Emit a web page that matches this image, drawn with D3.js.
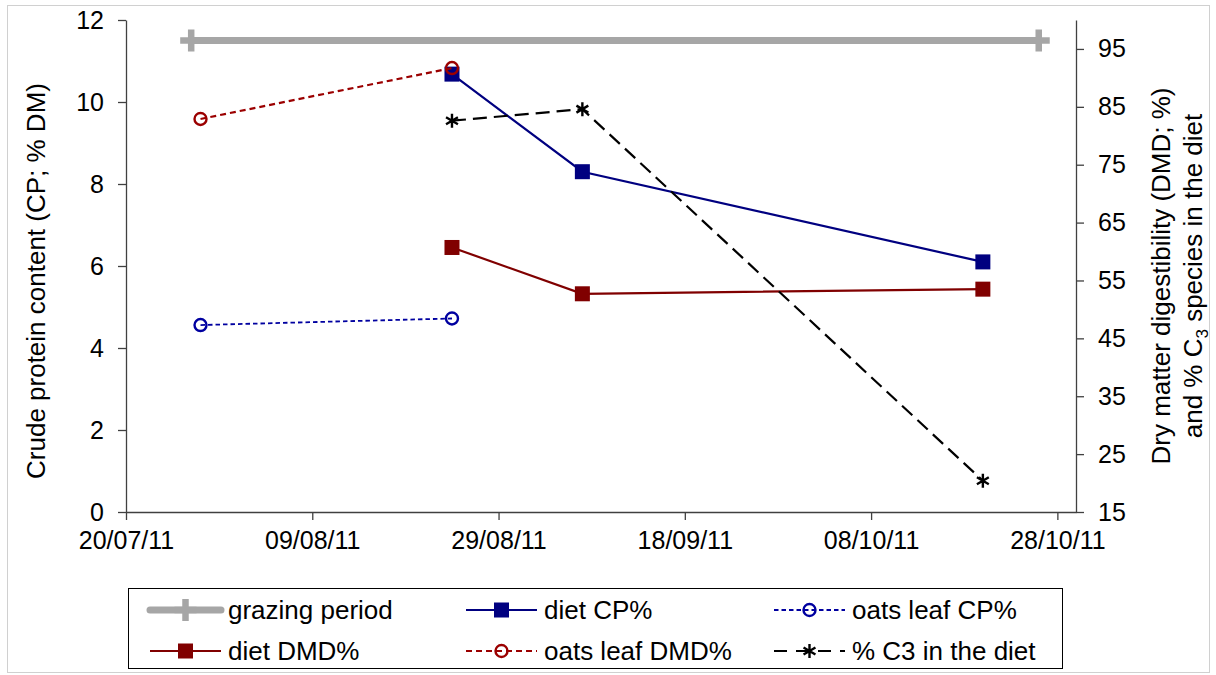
<!DOCTYPE html>
<html>
<head>
<meta charset="utf-8">
<script src="https://cdn.jsdelivr.net/npm/d3@7"></script>
<style>
  body { margin: 0; background: #fff; }
  svg { font-family: "Liberation Sans", Arial, sans-serif; }
</style>
</head>
<body>
<svg id="chart" width="1216" height="675"></svg>
<script>
// data
const xTickLabels = ["20/07/11", "09/08/11", "29/08/11", "18/09/11", "08/10/11", "28/10/11"];
const leftTicks = [0, 2, 4, 6, 8, 10, 12];
const rightTicks = [15, 25, 35, 45, 55, 65, 75, 85, 95];

const grazingDates = ["27/07/11", "26/10/11"];
const grazingCP = [11.5, 11.5];

const dietDates = ["24/08/11", "07/09/11", "20/10/11"];
const dietCP = [10.68, 8.3, 6.1];
const dietDMD = [60.7, 52.7, 53.5];
const c3Diet = [82.6, 84.6, 20.4];

const oatsDates = ["28/07/11", "24/08/11"];
const oatsCP = [4.56, 4.72];
const oatsDMD = [82.9, 91.7];

const parse = d3.timeParse("%d/%m/%y");
const fmt = d3.timeFormat("%d/%m/%y");

const svg = d3.select("#chart");
const plotLeft = 126, plotRight = 1076, plotTop = 20, plotBottom = 512;

const x = d3.scaleTime()
  .domain([parse("20/07/11"), parse("30/10/11")])
  .range([plotLeft, plotRight]);
const yL = d3.scaleLinear().domain([0, 12]).range([plotBottom, plotTop]);
const yR = d3.scaleLinear().domain([15, 100]).range([plotBottom, plotTop]);

// outer border
svg.append("rect")
  .attr("x", 7.5).attr("y", 5.5)
  .attr("width", 1202).attr("height", 667)
  .attr("fill", "none").attr("stroke", "#d0d0d0");

const axisColor = "#404040";
const styleAxis = g => {
  g.select(".domain").attr("stroke", axisColor).attr("stroke-width", 1.3);
  g.selectAll(".tick line").attr("stroke", axisColor).attr("stroke-width", 1.3);
  g.selectAll(".tick text").attr("fill", "#000").style("font-size", "25px");
};

svg.append("g")
  .attr("transform", `translate(0,${plotBottom})`)
  .call(d3.axisBottom(x)
    .tickValues(xTickLabels.map(parse))
    .tickFormat(fmt)
    .tickSize(8).tickSizeOuter(0).tickPadding(11))
  .call(styleAxis);

svg.append("g")
  .attr("transform", `translate(${plotLeft},0)`)
  .call(d3.axisLeft(yL).tickValues(leftTicks).tickSize(8).tickSizeOuter(0).tickPadding(14))
  .call(styleAxis);

svg.append("g")
  .attr("transform", `translate(${plotRight},0)`)
  .call(d3.axisRight(yR).tickValues(rightTicks).tickSize(8).tickSizeOuter(0).tickPadding(14))
  .call(styleAxis);

// axis titles
svg.append("text")
  .attr("transform", `translate(45,281) rotate(-90)`)
  .attr("text-anchor", "middle")
  .style("font-size", "26px")
  .text("Crude protein content (CP; % DM)");

const rt = svg.append("g")
  .attr("transform", `translate(1170,276) rotate(-90)`);
rt.append("text")
  .attr("text-anchor", "middle")
  .style("font-size", "26px")
  .text("Dry matter digestibility (DMD; %)");
const rt2 = rt.append("text")
  .attr("y", 32)
  .attr("text-anchor", "middle")
  .style("font-size", "26px");
rt2.append("tspan").text("and % C");
rt2.append("tspan").attr("dy", 6).style("font-size", "17px").text("3");
rt2.append("tspan").attr("dy", -6).text(" species in the diet");

// markers
const starPath = s => `M0,${-s}V${s}M${-s * 0.85},${-s * 0.5}L${s * 0.85},${s * 0.5}M${-s * 0.85},${s * 0.5}L${s * 0.85},${-s * 0.5}`;

const drawMarker = (g, type, color, cx, cy) => {
  if (type === "square") {
    g.append("rect")
      .attr("x", cx - 7.5).attr("y", cy - 7.5)
      .attr("width", 15).attr("height", 15)
      .attr("fill", color);
  } else if (type === "circle") {
    g.append("circle")
      .attr("cx", cx).attr("cy", cy).attr("r", 6)
      .attr("fill", "none").attr("stroke", color).attr("stroke-width", 2.4);
  } else if (type === "star") {
    g.append("path")
      .attr("transform", `translate(${cx},${cy})`)
      .attr("d", starPath(7))
      .attr("stroke", color).attr("stroke-width", 2.4).attr("fill", "none");
  } else if (type === "cross") {
    g.append("path")
      .attr("transform", `translate(${cx},${cy})`)
      .attr("d", "M-11,0H11M0,-11V11")
      .attr("stroke", color).attr("stroke-width", 6.5).attr("fill", "none");
  }
};

const series = [
  { name: "grazing period", dates: grazingDates, values: grazingCP, y: yL, color: "#a6a6a6", width: 7, dash: null, marker: "cross" },
  { name: "diet CP%", dates: dietDates, values: dietCP, y: yL, color: "#000080", width: 2.2, dash: null, marker: "square" },
  { name: "oats leaf CP%", dates: oatsDates, values: oatsCP, y: yL, color: "#0000a0", width: 1.8, dash: "4.5,3", marker: "circle" },
  { name: "diet DMD%", dates: dietDates, values: dietDMD, y: yR, color: "#800000", width: 2.2, dash: null, marker: "square" },
  { name: "oats leaf DMD%", dates: oatsDates, values: oatsDMD, y: yR, color: "#9b0000", width: 2.2, dash: "6,4", marker: "circle" },
  { name: "% C3 in the diet", dates: dietDates, values: c3Diet, y: yR, color: "#000", width: 2.2, dash: "14,7", marker: "star" }
];

const line = d3.line();
series.forEach(s => {
  const pts = s.dates.map((d, i) => [x(parse(d)), s.y(s.values[i])]);
  const g = svg.append("g");
  g.append("path")
    .attr("d", line(pts))
    .attr("fill", "none")
    .attr("stroke", s.color)
    .attr("stroke-width", s.width)
    .attr("stroke-dasharray", s.dash);
  pts.forEach(p => drawMarker(g, s.marker, s.color, p[0], p[1]));
});

// legend
const lg = svg.append("g");
lg.append("rect")
  .attr("x", 128.5).attr("y", 588.5)
  .attr("width", 934).attr("height", 80)
  .attr("fill", "#fff").attr("stroke", "#000").attr("stroke-width", 1);

const colX = [150, 466, 774];
const rowY = [610, 651];
series.forEach((s, i) => {
  const cx = colX[i % 3], cy = rowY[Math.floor(i / 3)];
  const g = lg.append("g");
  g.append("line")
    .attr("x1", cx).attr("x2", cx + 71)
    .attr("y1", cy).attr("y2", cy)
    .attr("stroke", s.color)
    .attr("stroke-width", s.width)
    .attr("stroke-linecap", s.marker === "cross" ? "round" : "butt")
    .attr("stroke-dasharray", s.marker === "star" ? "13,9" : s.dash);
  drawMarker(g, s.marker, s.color, cx + 35.5, cy);
  g.append("text")
    .attr("x", cx + 78).attr("y", cy)
    .attr("dy", "0.35em")
    .style("font-size", "26px")
    .text(s.name);
});
</script>
</body>
</html>
